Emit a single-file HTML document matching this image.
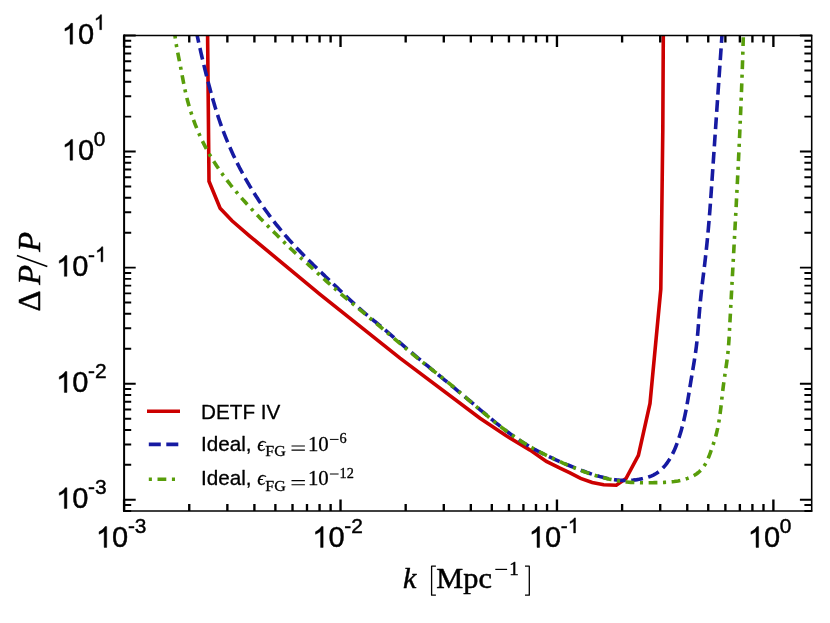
<!DOCTYPE html>
<html><head><meta charset="utf-8"><title>chart</title>
<style>html,body{margin:0;padding:0;background:#fff;}svg{display:block;will-change:transform;}text{font-family:"Liberation Sans",sans-serif;fill:#000;}.ser{font-family:"Liberation Serif",serif;}.it{font-family:"Liberation Serif",serif;font-style:italic;}</style></head><body>
<svg width="830" height="623" viewBox="0 0 830 623">
<rect x="0" y="0" width="830" height="623" fill="#ffffff"/>
<defs><clipPath id="ax"><rect x="124.10" y="35.50" width="687.40" height="475.53"/></clipPath></defs>
<g clip-path="url(#ax)" fill="none" stroke-width="3.60" stroke-linejoin="miter">
<path d="M207.60 35.50L208.30 108.00L209.00 181.30L220.10 208.20L232.00 220.80L250.00 236.30L320.00 294.40L400.00 358.20L480.00 418.20L505.10 435.10L530.10 450.10L546.40 461.40L560.00 468.20L570.00 472.80L580.60 478.40L592.20 482.40L603.70 484.70L616.30 485.20L626.00 478.60L638.40 455.40L650.00 403.50L660.80 289.20L661.40 245.00L662.80 130.00L663.30 35.50" stroke="#cc0000"/>
<path d="M197.18 35.50L197.57 37.35L197.97 39.19L198.37 41.03L198.77 42.87L199.17 44.71L199.58 46.55L199.99 48.38L200.41 50.22L200.82 52.05L201.24 53.89L201.67 55.72L202.09 57.55L202.53 59.38L202.96 61.21L203.40 63.04L203.84 64.87L204.28 66.70L204.73 68.53L205.18 70.35L205.63 72.18L206.09 74.00L206.55 75.83L207.02 77.65L207.48 79.47L207.96 81.29L208.43 83.11L208.91 84.93L209.39 86.75L209.88 88.57L210.37 90.39L210.87 92.20L211.37 94.02L211.87 95.83L212.38 97.64L212.89 99.46L213.41 101.27L213.94 103.07L214.47 104.88L215.01 106.68L215.56 108.49L216.11 110.29L216.67 112.08L217.24 113.88L217.82 115.67L218.41 117.46L219.01 119.24L219.61 121.03L220.23 122.80L220.85 124.58L221.49 126.35L222.13 128.12L222.79 129.88L223.45 131.64L224.13 133.40L224.81 135.15L225.50 136.90L226.20 138.65L226.92 140.39L227.64 142.13L228.37 143.86L229.11 145.59L229.86 147.32L230.62 149.04L231.39 150.76L232.17 152.47L232.95 154.18L233.75 155.89L234.56 157.59L235.37 159.28L236.19 160.98L237.03 162.66L237.87 164.35L238.72 166.02L239.58 167.70L240.45 169.37L241.33 171.03L242.22 172.69L243.11 174.35L244.02 176.00L244.93 177.64L245.86 179.28L246.79 180.92L247.73 182.55L248.68 184.18L249.64 185.80L250.60 187.41L251.58 189.02L252.56 190.63L253.56 192.23L254.56 193.82L255.57 195.41L256.59 197.00L257.61 198.58L258.65 200.15L259.69 201.72L260.74 203.28L261.80 204.83L262.87 206.38L263.95 207.93L265.04 209.47L266.13 211.00L267.23 212.53L268.34 214.05L269.46 215.57L270.58 217.07L271.72 218.58L272.86 220.07L274.01 221.57L275.17 223.05L276.33 224.53L277.51 226.00L278.69 227.46L279.88 228.92L281.07 230.38L282.28 231.82L283.49 233.26L284.71 234.69L285.94 236.12L287.17 237.54L288.42 238.95L289.67 240.36L290.92 241.75L292.19 243.15L293.46 244.53L294.74 245.91L296.02 247.29L297.31 248.65L298.61 250.02L299.91 251.37L301.22 252.73L302.53 254.07L303.85 255.42L305.17 256.76L306.50 258.09L307.83 259.42L309.17 260.75L310.50 262.07L311.85 263.39L313.19 264.71L314.54 266.02L315.89 267.33L317.24 268.64L318.60 269.95L319.96 271.26L321.32 272.56L322.68 273.86L324.04 275.16L325.40 276.46L326.77 277.76L328.13 279.06L329.50 280.36L330.86 281.65L332.23 282.95L333.59 284.25L334.96 285.55L336.32 286.85L337.68 288.15L339.04 289.45L340.40 290.75L341.76 292.05L343.12 293.35L344.47 294.65L345.84 295.95L347.20 297.24L348.56 298.54L349.93 299.83L351.30 301.11L352.68 302.39L354.06 303.66L355.45 304.93L356.84 306.19L358.24 307.45L359.64 308.69L361.06 309.93L362.48 311.16L363.91 312.38L365.35 313.59L366.79 314.80L368.24 316.00L369.69 317.20L371.14 318.39L372.60 319.59L374.05 320.78L375.51 321.98L376.96 323.17L378.42 324.37L379.87 325.57L381.31 326.78L382.76 327.99L384.20 329.21L385.64 330.43L387.07 331.65L388.51 332.87L389.94 334.10L391.37 335.33L392.80 336.56L394.23 337.79L395.66 339.02L397.09 340.25L398.52 341.48L399.95 342.71L401.37 343.94L402.80 345.17L404.23 346.39L405.67 347.61L407.10 348.83L408.54 350.05L409.97 351.27L411.41 352.48L412.85 353.69L414.29 354.90L415.73 356.11L417.17 357.32L418.62 358.52L420.06 359.72L421.51 360.92L422.95 362.12L424.40 363.32L425.85 364.52L427.30 365.71L428.75 366.91L430.20 368.10L431.65 369.30L433.10 370.49L434.55 371.68L436.00 372.88L437.45 374.07L438.90 375.26L440.36 376.45L441.81 377.65L443.26 378.84L444.71 380.03L446.16 381.23L447.62 382.42L449.07 383.62L450.52 384.81L451.97 386.01L453.42 387.21L454.87 388.41L456.32 389.61L457.77 390.81L459.22 392.01L460.66 393.22L462.11 394.43L463.55 395.63L465.00 396.85L466.44 398.06L467.89 399.27L469.33 400.49L470.77 401.71L472.21 402.93L473.65 404.16L475.08 405.38L476.52 406.60L477.96 407.83L479.40 409.05L480.84 410.27L482.29 411.50L483.73 412.72L485.17 413.93L486.62 415.15L488.07 416.36L489.52 417.57L490.98 418.77L492.43 419.97L493.89 421.16L495.36 422.35L496.83 423.53L498.30 424.71L499.78 425.88L501.26 427.04L502.75 428.19L504.24 429.34L505.74 430.47L507.24 431.60L508.75 432.72L510.26 433.83L511.79 434.92L513.32 436.01L514.85 437.08L516.40 438.15L517.95 439.20L519.51 440.23L521.08 441.26L522.65 442.27L524.24 443.27L525.83 444.25L527.44 445.21L529.05 446.17L530.67 447.11L532.30 448.03L533.93 448.95L535.58 449.85L537.23 450.74L538.89 451.62L540.56 452.48L542.23 453.34L543.91 454.18L545.59 455.01L547.29 455.83L548.98 456.65L550.69 457.45L552.40 458.24L554.11 459.03L555.83 459.81L557.56 460.57L559.28 461.33L561.02 462.09L562.75 462.83L564.50 463.57L566.24 464.30L567.99 465.03L569.74 465.75L571.50 466.46L573.26 467.17L575.02 467.88L576.78 468.58L578.54 469.27L580.31 469.96L582.08 470.63L583.86 471.30L585.63 471.96L587.41 472.60L589.20 473.23L590.98 473.84L592.77 474.44L594.57 475.01L596.36 475.57L598.16 476.10L599.97 476.61L601.78 477.09L603.59 477.55L605.40 477.98L607.23 478.39L609.05 478.76L610.88 479.10L612.72 479.40L614.55 479.67L616.40 479.91L618.25 480.10L620.10 480.26L621.96 480.37L623.83 480.45L625.70 480.47L627.57 480.46L629.46 480.39L631.34 480.28L633.24 480.12L635.14 479.91L637.03 479.65L638.93 479.34L640.81 478.99L642.68 478.60L644.54 478.16L646.37 477.67L648.17 477.13L649.94 476.52L651.66 475.83L653.34 475.07L654.97 474.21L656.55 473.26L658.06 472.21L659.53 471.09L660.93 469.88L662.28 468.60L663.58 467.25L664.82 465.84L666.01 464.36L667.14 462.85L668.22 461.29L669.25 459.69L670.24 458.07L671.18 456.43L672.08 454.78L672.93 453.10L673.75 451.40L674.52 449.69L675.27 447.96L675.98 446.23L676.66 444.47L677.32 442.71L677.95 440.94L678.55 439.16L679.14 437.37L679.70 435.58L680.25 433.78L680.79 431.97L681.30 430.16L681.81 428.35L682.29 426.54L682.76 424.71L683.22 422.89L683.66 421.06L684.09 419.23L684.50 417.40L684.90 415.56L685.29 413.72L685.67 411.87L686.03 410.03L686.38 408.18L686.72 406.33L687.06 404.48L687.38 402.63L687.70 400.77L688.02 398.91L688.32 397.06L688.63 395.20L688.93 393.34L689.23 391.48L689.52 389.62L689.82 387.76L690.12 385.90L690.42 384.04L690.72 382.18L691.02 380.32L691.33 378.46L691.64 376.61L691.96 374.75L692.27 372.89L692.59 371.04L692.90 369.18L693.21 367.32L693.52 365.47L693.83 363.61L694.13 361.75L694.43 359.90L694.72 358.04L695.01 356.18L695.29 354.32L695.56 352.46L695.82 350.59L696.07 348.73L696.31 346.87L696.53 345.00L696.75 343.13L696.95 341.26L697.15 339.39L697.34 337.52L697.52 335.64L697.69 333.77L697.86 331.89L698.02 330.02L698.17 328.14L698.32 326.26L698.47 324.38L698.62 322.51L698.77 320.63L698.91 318.75L699.06 316.87L699.20 314.99L699.35 313.11L699.50 311.24L699.65 309.36L699.81 307.48L699.97 305.60L700.14 303.73L700.32 301.85L700.50 299.98L700.69 298.11L700.88 296.24L701.08 294.37L701.29 292.49L701.50 290.63L701.72 288.76L701.94 286.89L702.16 285.02L702.38 283.15L702.61 281.28L702.83 279.41L703.06 277.55L703.29 275.68L703.52 273.81L703.75 271.94L703.97 270.07L704.20 268.20L704.42 266.34L704.64 264.47L704.86 262.60L705.08 260.73L705.29 258.86L705.51 256.99L705.72 255.12L705.93 253.25L706.13 251.38L706.33 249.50L706.53 247.63L706.73 245.76L706.92 243.89L707.11 242.02L707.29 240.14L707.47 238.27L707.65 236.40L707.83 234.52L708.00 232.65L708.17 230.77L708.34 228.90L708.51 227.02L708.67 225.15L708.83 223.27L708.99 221.40L709.14 219.52L709.29 217.65L709.45 215.77L709.59 213.89L709.74 212.02L709.89 210.14L710.03 208.26L710.17 206.39L710.31 204.51L710.45 202.63L710.59 200.75L710.73 198.88L710.86 197.00L710.99 195.12L711.13 193.24L711.26 191.37L711.39 189.49L711.52 187.61L711.65 185.73L711.78 183.85L711.91 181.97L712.04 180.10L712.16 178.22L712.29 176.34L712.42 174.46L712.55 172.58L712.68 170.71L712.80 168.83L712.93 166.95L713.06 165.07L713.19 163.19L713.31 161.31L713.44 159.44L713.57 157.56L713.70 155.68L713.83 153.80L713.95 151.92L714.08 150.05L714.21 148.17L714.34 146.29L714.47 144.41L714.59 142.53L714.72 140.66L714.85 138.78L714.98 136.90L715.11 135.02L715.24 133.15L715.36 131.27L715.49 129.39L715.62 127.51L715.75 125.63L715.88 123.76L716.01 121.88L716.14 120.00L716.27 118.12L716.39 116.24L716.52 114.37L716.65 112.49L716.78 110.61L716.91 108.73L717.04 106.86L717.17 104.98L717.30 103.10L717.43 101.22L717.56 99.34L717.69 97.47L717.81 95.59L717.94 93.71L718.07 91.83L718.20 89.96L718.33 88.08L718.46 86.20L718.59 84.32L718.72 82.44L718.85 80.57L718.98 78.69L719.11 76.81L719.24 74.93L719.37 73.06L719.50 71.18L719.63 69.30L719.76 67.42L719.89 65.54L720.02 63.67L720.15 61.79L720.28 59.91L720.41 58.03L720.54 56.16L720.67 54.28L720.80 52.40L720.93 50.52L721.06 48.64L721.19 46.77L721.32 44.89L721.45 43.01L721.58 41.13L721.71 39.25L721.84 37.38L721.97 35.50" stroke="#161aa2" stroke-dasharray="11.8 5.5" stroke-dashoffset="4.5"/>
<path d="M174.96 35.52L175.20 37.46L175.47 39.40L175.76 41.34L176.06 43.28L176.39 45.22L176.73 47.17L177.08 49.11L177.44 51.05L177.81 52.99L178.19 54.93L178.57 56.88L178.96 58.82L179.34 60.76L179.73 62.70L180.12 64.63L180.50 66.57L180.87 68.50L181.24 70.44L181.60 72.37L181.96 74.30L182.32 76.23L182.68 78.16L183.04 80.08L183.41 82.01L183.78 83.93L184.16 85.85L184.55 87.77L184.96 89.69L185.37 91.61L185.81 93.53L186.26 95.44L186.72 97.36L187.21 99.27L187.71 101.17L188.22 103.08L188.75 104.98L189.30 106.88L189.86 108.77L190.44 110.66L191.04 112.55L191.65 114.43L192.28 116.31L192.92 118.18L193.58 120.05L194.26 121.90L194.96 123.76L195.67 125.60L196.40 127.44L197.14 129.28L197.90 131.10L198.68 132.92L199.47 134.73L200.28 136.53L201.11 138.32L201.95 140.11L202.81 141.88L203.69 143.65L204.58 145.40L205.49 147.15L206.42 148.88L207.37 150.61L208.33 152.32L209.30 154.03L210.29 155.72L211.30 157.41L212.32 159.08L213.36 160.75L214.41 162.41L215.47 164.06L216.55 165.70L217.64 167.33L218.75 168.95L219.86 170.56L220.99 172.17L222.14 173.77L223.29 175.36L224.46 176.94L225.63 178.52L226.82 180.08L228.02 181.64L229.23 183.19L230.45 184.74L231.68 186.28L232.92 187.81L234.17 189.33L235.43 190.85L236.70 192.36L237.97 193.87L239.25 195.37L240.55 196.86L241.84 198.35L243.15 199.83L244.46 201.31L245.78 202.78L247.11 204.25L248.44 205.71L249.78 207.16L251.12 208.62L252.47 210.06L253.82 211.50L255.18 212.94L256.54 214.38L257.91 215.81L259.28 217.23L260.65 218.65L262.03 220.07L263.41 221.49L264.79 222.90L266.18 224.31L267.56 225.71L268.95 227.11L270.34 228.51L271.73 229.91L273.12 231.30L274.51 232.70L275.91 234.09L277.30 235.47L278.69 236.86L280.08 238.24L281.48 239.62L282.87 241.00L284.27 242.38L285.67 243.75L287.08 245.11L288.49 246.48L289.90 247.84L291.32 249.19L292.75 250.54L294.18 251.88L295.62 253.22L297.07 254.55L298.52 255.88L299.98 257.20L301.46 258.52L302.94 259.82L304.43 261.13L305.92 262.43L307.40 263.74L308.89 265.05L310.36 266.37L311.81 267.71L313.26 269.05L314.70 270.39L316.14 271.74L317.58 273.09L319.02 274.43L320.46 275.77L321.91 277.10L323.37 278.43L324.83 279.75L326.29 281.06L327.76 282.37L329.23 283.68L330.70 284.99L332.18 286.28L333.66 287.58L335.15 288.87L336.64 290.16L338.13 291.44L339.62 292.73L341.12 294.01L342.62 295.28L344.12 296.56L345.63 297.83L347.13 299.10L348.64 300.36L350.15 301.63L351.66 302.89L353.17 304.16L354.68 305.42L356.20 306.68L357.71 307.94L359.23 309.20L360.74 310.46L362.26 311.71L363.78 312.97L365.29 314.23L366.81 315.49L368.33 316.75L369.84 318.01L371.36 319.27L372.87 320.54L374.38 321.80L375.90 323.07L377.41 324.34L378.92 325.61L380.42 326.88L381.93 328.15L383.43 329.43L384.94 330.70L386.44 331.98L387.94 333.26L389.44 334.54L390.95 335.82L392.45 337.10L393.95 338.38L395.45 339.66L396.95 340.94L398.45 342.21L399.96 343.49L401.46 344.76L402.97 346.04L404.48 347.31L405.99 348.58L407.50 349.84L409.01 351.10L410.52 352.36L412.04 353.62L413.56 354.87L415.08 356.12L416.61 357.36L418.14 358.60L419.67 359.84L421.20 361.07L422.74 362.30L424.28 363.53L425.82 364.75L427.36 365.98L428.90 367.20L430.44 368.42L431.98 369.64L433.53 370.86L435.07 372.09L436.61 373.31L438.15 374.53L439.69 375.76L441.22 376.99L442.76 378.22L444.29 379.46L445.82 380.70L447.35 381.94L448.87 383.19L450.40 384.45L451.91 385.71L453.43 386.97L454.94 388.24L456.44 389.51L457.95 390.79L459.45 392.07L460.95 393.35L462.45 394.64L463.95 395.93L465.45 397.22L466.94 398.51L468.44 399.80L469.94 401.10L471.43 402.39L472.93 403.68L474.42 404.97L475.92 406.26L477.42 407.55L478.92 408.84L480.42 410.12L481.92 411.40L483.43 412.68L484.94 413.95L486.45 415.22L487.97 416.48L489.49 417.74L491.01 418.99L492.54 420.24L494.07 421.48L495.60 422.72L497.14 423.94L498.69 425.16L500.24 426.37L501.80 427.57L503.36 428.77L504.93 429.95L506.51 431.12L508.10 432.29L509.69 433.44L511.29 434.58L512.89 435.71L514.51 436.83L516.13 437.93L517.76 439.03L519.41 440.11L521.06 441.17L522.72 442.22L524.39 443.26L526.07 444.28L527.76 445.29L529.46 446.28L531.17 447.26L532.88 448.23L534.61 449.18L536.34 450.12L538.08 451.05L539.83 451.97L541.58 452.87L543.34 453.77L545.11 454.65L546.88 455.53L548.65 456.39L550.44 457.25L552.22 458.10L554.01 458.94L555.80 459.77L557.59 460.59L559.39 461.41L561.19 462.22L562.99 463.02L564.80 463.82L566.60 464.61L568.41 465.39L570.22 466.16L572.04 466.92L573.85 467.68L575.68 468.42L577.50 469.15L579.33 469.87L581.17 470.57L583.01 471.26L584.86 471.94L586.71 472.60L588.57 473.25L590.44 473.88L592.31 474.50L594.19 475.10L596.08 475.68L597.97 476.24L599.87 476.78L601.77 477.30L603.68 477.80L605.60 478.28L607.52 478.74L609.45 479.18L611.38 479.59L613.31 479.98L615.25 480.35L617.19 480.69L619.13 481.01L621.08 481.30L623.03 481.57L624.99 481.80L626.94 482.01L628.90 482.20L630.86 482.35L632.82 482.48L634.78 482.57L636.74 482.65L638.71 482.71L640.67 482.74L642.64 482.76L644.61 482.76L646.58 482.76L648.56 482.74L650.53 482.72L652.51 482.69L654.49 482.66L656.47 482.63L658.45 482.59L660.43 482.53L662.41 482.47L664.39 482.38L666.36 482.28L668.33 482.14L670.30 481.98L672.26 481.78L674.21 481.54L676.15 481.25L678.09 480.92L680.01 480.54L681.92 480.10L683.82 479.61L685.71 479.04L687.59 478.41L689.44 477.71L691.27 476.92L693.05 476.05L694.77 475.07L696.42 473.98L697.99 472.80L699.48 471.52L700.87 470.15L702.15 468.70L703.33 467.17L704.42 465.57L705.43 463.91L706.36 462.20L707.23 460.44L708.04 458.63L708.80 456.80L709.53 454.95L710.22 453.08L710.89 451.20L711.55 449.31L712.20 447.44L712.84 445.56L713.47 443.69L714.07 441.81L714.66 439.93L715.22 438.05L715.76 436.16L716.26 434.27L716.74 432.37L717.18 430.46L717.60 428.55L718.00 426.63L718.37 424.70L718.72 422.77L719.04 420.83L719.35 418.89L719.64 416.95L719.92 415.00L720.18 413.05L720.43 411.09L720.68 409.13L720.91 407.17L721.13 405.21L721.35 403.25L721.57 401.28L721.79 399.32L722.00 397.35L722.22 395.39L722.44 393.42L722.67 391.46L722.90 389.50L723.14 387.54L723.39 385.58L723.65 383.62L723.93 381.67L724.20 379.71L724.49 377.76L724.77 375.81L725.06 373.86L725.35 371.91L725.64 369.96L725.93 368.01L726.21 366.07L726.49 364.12L726.76 362.17L727.02 360.22L727.27 358.27L727.51 356.31L727.74 354.36L727.95 352.40L728.14 350.45L728.32 348.49L728.48 346.52L728.63 344.56L728.77 342.60L728.91 340.63L729.03 338.67L729.15 336.70L729.26 334.73L729.36 332.76L729.47 330.80L729.57 328.83L729.68 326.86L729.78 324.89L729.89 322.92L729.99 320.95L730.10 318.99L730.20 317.02L730.31 315.05L730.41 313.08L730.52 311.11L730.62 309.14L730.73 307.18L730.83 305.21L730.94 303.24L731.05 301.27L731.15 299.30L731.26 297.33L731.36 295.37L731.47 293.40L731.58 291.43L731.68 289.46L731.79 287.49L731.90 285.53L732.00 283.56L732.11 281.59L732.22 279.62L732.32 277.65L732.43 275.69L732.54 273.72L732.65 271.75L732.75 269.78L732.86 267.81L732.97 265.85L733.07 263.88L733.18 261.91L733.29 259.94L733.39 257.97L733.50 256.00L733.61 254.04L733.71 252.07L733.82 250.10L733.93 248.13L734.03 246.16L734.14 244.20L734.24 242.23L734.35 240.26L734.46 238.29L734.56 236.32L734.67 234.36L734.77 232.39L734.88 230.42L734.98 228.45L735.09 226.48L735.19 224.52L735.30 222.55L735.40 220.58L735.51 218.61L735.61 216.64L735.71 214.68L735.82 212.71L735.92 210.74L736.02 208.77L736.13 206.80L736.23 204.84L736.33 202.87L736.43 200.90L736.53 198.93L736.64 196.96L736.74 194.99L736.84 193.03L736.94 191.06L737.04 189.09L737.14 187.12L737.24 185.15L737.34 183.19L737.44 181.22L737.54 179.25L737.64 177.28L737.73 175.31L737.83 173.34L737.93 171.38L738.03 169.41L738.12 167.44L738.22 165.47L738.31 163.50L738.41 161.53L738.50 159.57L738.60 157.60L738.69 155.63L738.79 153.66L738.88 151.69L738.97 149.72L739.07 147.75L739.16 145.79L739.25 143.82L739.34 141.85L739.43 139.88L739.52 137.91L739.61 135.94L739.70 133.97L739.79 132.01L739.87 130.04L739.96 128.07L740.05 126.10L740.14 124.13L740.22 122.16L740.31 120.19L740.39 118.22L740.47 116.26L740.56 114.29L740.64 112.32L740.72 110.35L740.81 108.38L740.89 106.41L740.97 104.44L741.05 102.47L741.13 100.50L741.20 98.53L741.28 96.56L741.36 94.59L741.44 92.63L741.51 90.66L741.59 88.69L741.66 86.72L741.74 84.75L741.81 82.78L741.88 80.81L741.95 78.84L742.02 76.87L742.10 74.90L742.16 72.93L742.23 70.96L742.30 68.99L742.37 67.02L742.44 65.05L742.50 63.08L742.57 61.11L742.63 59.14L742.69 57.17L742.76 55.20L742.82 53.23L742.88 51.26L742.94 49.29L743.00 47.32L743.06 45.35L743.12 43.38L743.17 41.41L743.23 39.44L743.29 37.47L743.34 35.50" stroke="#589d0a" stroke-dasharray="8.78 5.59 3.09 5.59" stroke-dashoffset="5.7"/>
</g>
<path d="M124.10 511.03L124.10 499.43 M124.10 35.50L124.10 47.10 M189.25 511.03L189.25 503.93 M189.25 35.50L189.25 42.60 M227.36 511.03L227.36 503.93 M227.36 35.50L227.36 42.60 M254.40 511.03L254.40 503.93 M254.40 35.50L254.40 42.60 M275.38 511.03L275.38 503.93 M275.38 35.50L275.38 42.60 M292.52 511.03L292.52 503.93 M292.52 35.50L292.52 42.60 M307.00 511.03L307.00 503.93 M307.00 35.50L307.00 42.60 M319.56 511.03L319.56 503.93 M319.56 35.50L319.56 42.60 M330.63 511.03L330.63 503.93 M330.63 35.50L330.63 42.60 M340.53 511.03L340.53 499.43 M340.53 35.50L340.53 47.10 M405.68 511.03L405.68 503.93 M405.68 35.50L405.68 42.60 M443.79 511.03L443.79 503.93 M443.79 35.50L443.79 42.60 M470.83 511.03L470.83 503.93 M470.83 35.50L470.83 42.60 M491.81 511.03L491.81 503.93 M491.81 35.50L491.81 42.60 M508.95 511.03L508.95 503.93 M508.95 35.50L508.95 42.60 M523.43 511.03L523.43 503.93 M523.43 35.50L523.43 42.60 M535.99 511.03L535.99 503.93 M535.99 35.50L535.99 42.60 M547.06 511.03L547.06 503.93 M547.06 35.50L547.06 42.60 M556.96 511.03L556.96 499.43 M556.96 35.50L556.96 47.10 M622.11 511.03L622.11 503.93 M622.11 35.50L622.11 42.60 M660.22 511.03L660.22 503.93 M660.22 35.50L660.22 42.60 M687.26 511.03L687.26 503.93 M687.26 35.50L687.26 42.60 M708.24 511.03L708.24 503.93 M708.24 35.50L708.24 42.60 M725.38 511.03L725.38 503.93 M725.38 35.50L725.38 42.60 M739.86 511.03L739.86 503.93 M739.86 35.50L739.86 42.60 M752.42 511.03L752.42 503.93 M752.42 35.50L752.42 42.60 M763.49 511.03L763.49 503.93 M763.49 35.50L763.49 42.60 M773.39 511.03L773.39 499.43 M773.39 35.50L773.39 47.10" stroke="#000" stroke-width="2.35" fill="none"/>
<path d="M124.10 511.03L131.20 511.03 M811.50 511.03L804.40 511.03 M124.10 505.09L131.20 505.09 M811.50 505.09L804.40 505.09 M124.10 499.78L135.70 499.78 M811.50 499.78L799.90 499.78 M124.10 464.84L131.20 464.84 M811.50 464.84L804.40 464.84 M124.10 444.40L131.20 444.40 M811.50 444.40L804.40 444.40 M124.10 429.90L131.20 429.90 M811.50 429.90L804.40 429.90 M124.10 418.65L131.20 418.65 M811.50 418.65L804.40 418.65 M124.10 409.46L131.20 409.46 M811.50 409.46L804.40 409.46 M124.10 401.69L131.20 401.69 M811.50 401.69L804.40 401.69 M124.10 394.96L131.20 394.96 M811.50 394.96L804.40 394.96 M124.10 389.02L131.20 389.02 M811.50 389.02L804.40 389.02 M124.10 383.71L135.70 383.71 M811.50 383.71L799.90 383.71 M124.10 348.77L131.20 348.77 M811.50 348.77L804.40 348.77 M124.10 328.33L131.20 328.33 M811.50 328.33L804.40 328.33 M124.10 313.83L131.20 313.83 M811.50 313.83L804.40 313.83 M124.10 302.58L131.20 302.58 M811.50 302.58L804.40 302.58 M124.10 293.39L131.20 293.39 M811.50 293.39L804.40 293.39 M124.10 285.62L131.20 285.62 M811.50 285.62L804.40 285.62 M124.10 278.89L131.20 278.89 M811.50 278.89L804.40 278.89 M124.10 272.95L131.20 272.95 M811.50 272.95L804.40 272.95 M124.10 267.64L135.70 267.64 M811.50 267.64L799.90 267.64 M124.10 232.70L131.20 232.70 M811.50 232.70L804.40 232.70 M124.10 212.26L131.20 212.26 M811.50 212.26L804.40 212.26 M124.10 197.76L131.20 197.76 M811.50 197.76L804.40 197.76 M124.10 186.51L131.20 186.51 M811.50 186.51L804.40 186.51 M124.10 177.32L131.20 177.32 M811.50 177.32L804.40 177.32 M124.10 169.55L131.20 169.55 M811.50 169.55L804.40 169.55 M124.10 162.82L131.20 162.82 M811.50 162.82L804.40 162.82 M124.10 156.88L131.20 156.88 M811.50 156.88L804.40 156.88 M124.10 151.57L135.70 151.57 M811.50 151.57L799.90 151.57 M124.10 116.63L131.20 116.63 M811.50 116.63L804.40 116.63 M124.10 96.19L131.20 96.19 M811.50 96.19L804.40 96.19 M124.10 81.69L131.20 81.69 M811.50 81.69L804.40 81.69 M124.10 70.44L131.20 70.44 M811.50 70.44L804.40 70.44 M124.10 61.25L131.20 61.25 M811.50 61.25L804.40 61.25 M124.10 53.48L131.20 53.48 M811.50 53.48L804.40 53.48 M124.10 46.75L131.20 46.75 M811.50 46.75L804.40 46.75 M124.10 40.81L131.20 40.81 M811.50 40.81L804.40 40.81 M124.10 35.50L135.70 35.50 M811.50 35.50L799.90 35.50" stroke="#000" stroke-width="1.95" fill="none"/>
<g stroke="#000" fill="none" stroke-linecap="square">
<path d="M124.10 35.50H811.50" stroke-width="1.4"/>
<path d="M124.10 511.03H811.50" stroke-width="1.55"/>
<path d="M124.10 35.50V511.03" stroke-width="2.0"/>
<path d="M811.70 35.50V511.03" stroke-width="1.55"/>
</g>
<g stroke="#000" stroke-width="0.45" stroke-linejoin="round">
<path fill="#000" d="M72.60 44.20H70.06V27.96Q69.13 28.84 67.64 29.71Q66.15 30.59 64.96 31.03V28.57Q67.10 27.56 68.70 26.13Q70.30 24.70 70.96 23.36H72.60Z"/><text x="77.92" y="44.20" font-size="29.0">0</text><path fill="#000" d="M101.59 29.70H99.75V17.99Q99.09 18.63 98.01 19.26Q96.93 19.89 96.08 20.21V18.43Q97.62 17.71 98.77 16.68Q99.92 15.65 100.40 14.68H101.59Z"/>
<path fill="#000" d="M72.60 160.27H70.06V144.03Q69.13 144.91 67.64 145.78Q66.15 146.66 64.96 147.10V144.64Q67.10 143.63 68.70 142.20Q70.30 140.77 70.96 139.43H72.60Z"/><text x="77.92" y="160.27" font-size="29.0">0</text><text x="93.80" y="145.77" font-size="20.9">0</text>
<path fill="#000" d="M66.90 276.34H64.36V260.10Q63.43 260.98 61.94 261.85Q60.45 262.73 59.26 263.17V260.71Q61.40 259.70 63.00 258.27Q64.60 256.84 65.26 255.50H66.90Z"/><text x="72.22" y="276.34" font-size="29.0">0</text><text x="88.10" y="261.84" font-size="20.9">-</text><path fill="#000" d="M102.85 261.84H101.01V250.13Q100.35 250.77 99.27 251.40Q98.19 252.03 97.34 252.35V250.57Q98.88 249.85 100.03 248.82Q101.18 247.79 101.66 246.82H102.85Z"/>
<path fill="#000" d="M66.90 392.41H64.36V376.17Q63.43 377.05 61.94 377.92Q60.45 378.80 59.26 379.24V376.78Q61.40 375.77 63.00 374.34Q64.60 372.91 65.26 371.57H66.90Z"/><text x="72.22" y="392.41" font-size="29.0">0</text><text x="88.10" y="377.91" font-size="20.9">-</text><text x="95.06" y="377.91" font-size="20.9">2</text>
<path fill="#000" d="M66.90 508.48H64.36V492.24Q63.43 493.12 61.94 493.99Q60.45 494.87 59.26 495.31V492.85Q61.40 491.84 63.00 490.41Q64.60 488.98 65.26 487.64H66.90Z"/><text x="72.22" y="508.48" font-size="29.0">0</text><text x="88.10" y="493.98" font-size="20.9">-</text><text x="95.06" y="493.98" font-size="20.9">3</text>
<path fill="#000" d="M106.70 547.40H104.16V531.16Q103.23 532.04 101.74 532.91Q100.25 533.79 99.06 534.23V531.77Q101.20 530.76 102.80 529.33Q104.40 527.90 105.06 526.56H106.70Z"/><text x="112.02" y="547.40" font-size="29.0">0</text><text x="127.90" y="532.90" font-size="20.9">-</text><text x="134.86" y="532.90" font-size="20.9">3</text>
<path fill="#000" d="M323.13 547.40H320.59V531.16Q319.66 532.04 318.17 532.91Q316.68 533.79 315.49 534.23V531.77Q317.63 530.76 319.23 529.33Q320.83 527.90 321.49 526.56H323.13Z"/><text x="328.45" y="547.40" font-size="29.0">0</text><text x="344.33" y="532.90" font-size="20.9">-</text><text x="351.29" y="532.90" font-size="20.9">2</text>
<path fill="#000" d="M539.56 547.40H537.02V531.16Q536.09 532.04 534.60 532.91Q533.11 533.79 531.92 534.23V531.77Q534.06 530.76 535.66 529.33Q537.26 527.90 537.92 526.56H539.56Z"/><text x="544.88" y="547.40" font-size="29.0">0</text><text x="560.76" y="532.90" font-size="20.9">-</text><path fill="#000" d="M575.51 532.90H573.67V521.19Q573.01 521.83 571.93 522.46Q570.85 523.09 570.00 523.41V521.63Q571.54 520.91 572.69 519.88Q573.84 518.85 574.32 517.88H575.51Z"/>
<path fill="#000" d="M758.59 547.40H756.05V531.16Q755.12 532.04 753.63 532.91Q752.14 533.79 750.95 534.23V531.77Q753.09 530.76 754.69 529.33Q756.29 527.90 756.95 526.56H758.59Z"/><text x="763.91" y="547.40" font-size="29.0">0</text><text x="779.79" y="532.90" font-size="20.9">0</text>
</g>
<g stroke="#000" stroke-width="0.5" stroke-linejoin="round">
<g transform="translate(39.7 0) rotate(-90)">
<text class="ser" x="-311.6" y="0" font-size="32.5">Δ</text>
<text class="it" x="-284.7" y="0" font-size="32.5">P</text>
<path d="M-266.5 7.6L-255.5 -22.8" stroke="#000" stroke-width="1.5" fill="none"/>
<text class="it" x="-251.8" y="0" font-size="32.5">P</text>
</g>
<text class="it" x="403.0" y="588.4" font-size="30">k</text>
<path d="M435.9 566.2H431.6V595.2H435.9" stroke="#000" stroke-width="1.3" fill="none"/>
<text class="ser" x="436.3" y="588.4" font-size="30" textLength="55.6" lengthAdjust="spacingAndGlyphs">Mpc</text>
<path d="M495.3 569.4H507.1" stroke="#000" stroke-width="1.2" fill="none"/>
<text class="ser" x="509.3" y="574.8" font-size="19">1</text>
<path d="M525.0 566.2H529.3V595.2H525.0" stroke="#000" stroke-width="1.3" fill="none"/>
</g>
<g fill="none" stroke-width="3.60">
<path d="M147.0 411.2H180.0" stroke="#cc0000"/>
<path d="M148.8 444.4H180" stroke="#161aa2" stroke-dasharray="12 5.5"/>
<path d="M148.8 479.2H151.9M157.5 479.2H166.3M171.9 479.2H175.0" stroke="#589d0a"/>
</g>
<g stroke="#000" stroke-width="0.3" stroke-linejoin="round">
<text x="201.0" y="418.8" font-size="20.7">DETF IV</text>
<text x="201.0" y="450.7" font-size="20.7">Ideal,</text>
<text class="it" x="257.2" y="450.7" font-size="20.5">ϵ</text>
<text class="ser" x="265.3" y="456.1" font-size="14" textLength="20.4" lengthAdjust="spacingAndGlyphs">FG</text>
<path d="M291.5 446.0H304.9M291.5 450.1H304.9" stroke="#000" stroke-width="1.1" fill="none"/>
<text class="ser" x="307.9" y="450.7" font-size="20.8">10</text>
<path d="M329.9 439.4H338.6" stroke="#000" stroke-width="1.0" fill="none"/>
<text class="ser" x="339.6" y="443.1" font-size="14.3">6</text>
<text x="201.0" y="485.3" font-size="20.7">Ideal,</text>
<text class="it" x="257.2" y="485.3" font-size="20.5">ϵ</text>
<text class="ser" x="265.3" y="490.7" font-size="14" textLength="20.4" lengthAdjust="spacingAndGlyphs">FG</text>
<path d="M291.5 480.6H304.9M291.5 484.7H304.9" stroke="#000" stroke-width="1.1" fill="none"/>
<text class="ser" x="307.9" y="485.3" font-size="20.8">10</text>
<path d="M329.9 474.0H338.6" stroke="#000" stroke-width="1.0" fill="none"/>
<text class="ser" x="339.6" y="477.7" font-size="14.3">12</text>
</g>
</svg></body></html>
